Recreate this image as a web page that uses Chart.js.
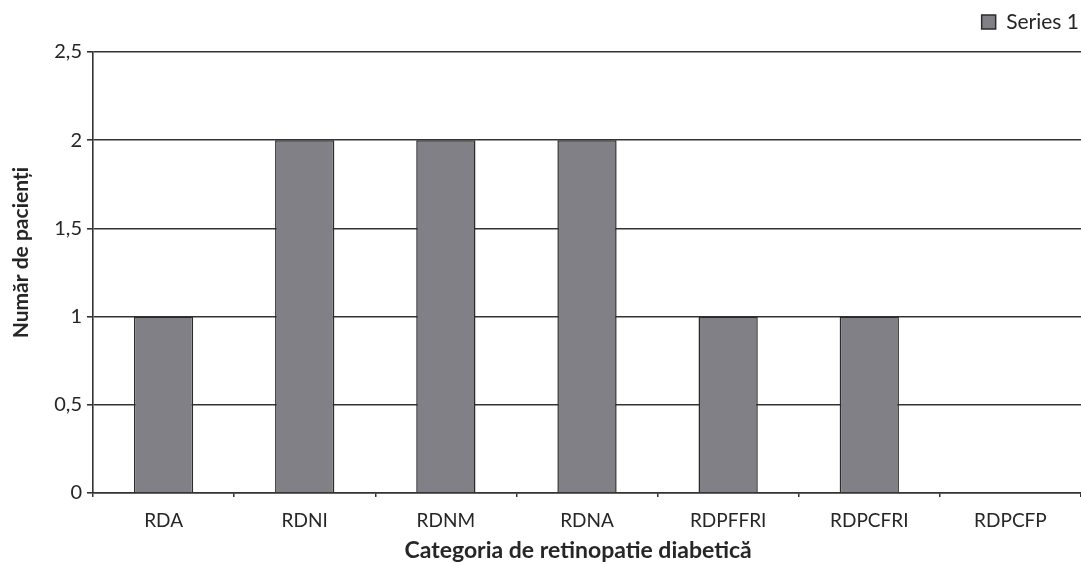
<!DOCTYPE html>
<html>
<head>
<meta charset="utf-8">
<script src="https://cdn.jsdelivr.net/npm/chart.js@4"></script>
<style>
  html, body { margin: 0; padding: 0; background: #fff; }
  #wrap { width: 1081px; height: 564px; }
</style>
</head>
<body>
<div id="wrap"><canvas id="chart"></canvas></div>
<script>
const categories = ["RDA", "RDNI", "RDNM", "RDNA", "RDPFFRI", "RDPCFRI", "RDPCFP"];
const patients = [1, 2, 2, 2, 1, 1, 0];
const seriesName = "Series 1";
const xTitle = "Categoria de retinopatie diabetică";
const yTitle = "Număr de pacienți";

const lineColor = "#333333";
const textColor = "#262626";
const fontFamily = "Lato, 'Open Sans', sans-serif";

// axis titles sit a little off the plot centre, so they are drawn by hand
const axisTitles = {
  id: "axisTitles",
  afterDraw(chart) {
    const ctx = chart.ctx;
    const area = chart.chartArea;
    ctx.save();
    ctx.fillStyle = textColor;
    ctx.textAlign = "center";
    ctx.textBaseline = "middle";
    ctx.font = "bold 23px " + fontFamily;
    ctx.fillText(xTitle, area.left + area.width * 0.491, 551);
    ctx.translate(21, area.top + area.height * 0.455);
    ctx.rotate(-Math.PI / 2);
    ctx.font = "bold 21px " + fontFamily;
    ctx.fillText(yTitle, 0, 0);
    ctx.restore();
  },
};

const ctx = document.getElementById("chart").getContext("2d");
new Chart(ctx, {
  type: "bar",
  data: {
    labels: categories,
    datasets: [
      {
        label: seriesName,
        data: patients,
        backgroundColor: "#808086",
        borderColor: "#2b2b2b",
        borderWidth: 1.5,
        categoryPercentage: 1,
        barPercentage: 0.42,
      },
    ],
  },
  options: {
    responsive: true,
    maintainAspectRatio: false,
    animation: false,
    layout: { padding: { top: 9.5, right: 0, bottom: 0, left: 0 } },
    plugins: {
      legend: {
        position: "top",
        align: "end",
        weight: 3000,
        labels: {
          font: { family: fontFamily, size: 21 },
          color: textColor,
          boxWidth: 14,
          boxHeight: 14,
          padding: 2,
        },
      },
      // empty title, only a gap between the legend and the plot
      title: {
        display: true,
        text: "",
        font: { size: 9.5, lineHeight: 1 },
        padding: 0,
      },
      tooltip: { enabled: false },
    },
    scales: {
      x: {
        grid: {
          drawOnChartArea: false,
          drawTicks: true,
          tickLength: 4,
          color: lineColor,
          lineWidth: 1.5,
        },
        border: { color: lineColor, width: 1.5 },
        ticks: {
          font: { family: fontFamily, size: 19 },
          color: textColor,
          padding: 12,
        },
        afterFit(scale) {
          scale.height = 71;
        },
      },
      y: {
        min: 0,
        max: 2.5,
        ticks: {
          stepSize: 0.5,
          font: { family: fontFamily, size: 20 },
          color: textColor,
          padding: 5,
          callback: (v) => String(v).replace(".", ","),
        },
        grid: {
          color: lineColor,
          lineWidth: 1.6,
          tickLength: 6,
        },
        border: { color: lineColor, width: 1.6 },
        afterFit(scale) {
          scale.width = 93;
        },
      },
    },
  },
  plugins: [axisTitles],
});
</script>
</body>
</html>
